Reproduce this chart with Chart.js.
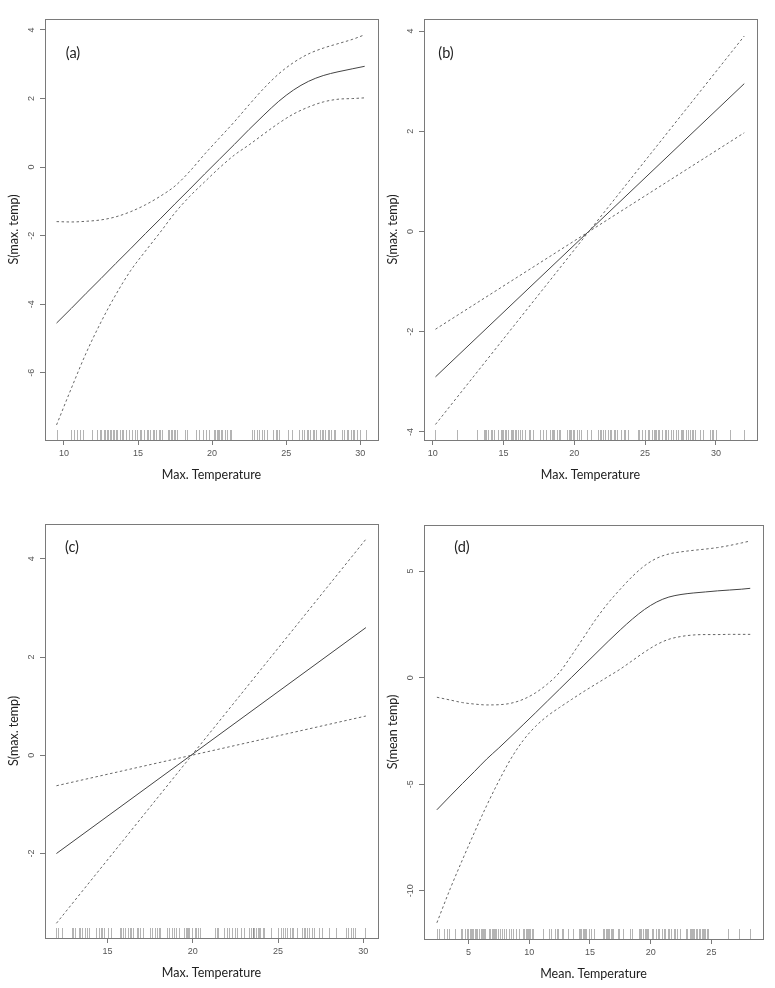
<!DOCTYPE html>
<html lang="en">
<head>
<meta charset="UTF-8">
<title>Smooth terms of temperature</title>
<script src="https://cdn.jsdelivr.net/npm/chart.js"></script>
<style>
  body { margin: 0; background: #fff; }
  canvas { position: absolute; }
</style>
</head>
<body>
<canvas id="pa" width="385" height="494" style="left:0;top:0"></canvas>
<canvas id="pb" width="390" height="494" style="left:385px;top:0"></canvas>
<canvas id="pc" width="385" height="494" style="left:0;top:494px"></canvas>
<canvas id="pd" width="390" height="494" style="left:385px;top:494px"></canvas>

<script>
// ---- panel (a) ----
const tempA  = [9.5, 10.5, 11.5, 12.5, 13.5, 14.5, 15.5, 16.5, 17.5, 18.5, 19.5, 20.5, 21.5, 22.5, 23.5, 24.5, 25.5, 26.5, 27.5, 28.5, 29.5, 30.3];
const fitA   = [-4.55, -4.12, -3.68, -3.25, -2.81, -2.38, -1.94, -1.51, -1.07, -0.64, -0.2, 0.23, 0.66, 1.1, 1.52, 1.92, 2.25, 2.5, 2.67, 2.78, 2.87, 2.94];
const upperA = [-1.59, -1.6, -1.58, -1.54, -1.45, -1.3, -1.1, -0.85, -0.55, -0.12, 0.38, 0.85, 1.32, 1.82, 2.3, 2.72, 3.05, 3.3, 3.47, 3.6, 3.73, 3.86];
const lowerA = [-7.52, -6.45, -5.42, -4.52, -3.72, -3.02, -2.45, -1.9, -1.33, -0.85, -0.43, -0.02, 0.35, 0.65, 0.97, 1.28, 1.55, 1.75, 1.9, 1.98, 2.0, 2.02];
const rugA = [9.5, 10.5, 10.7, 10.9, 11.1, 11.3, 11.9, 12.2, 12.4, 12.5, 12.7, 12.8, 12.9, 13.0, 13.1, 13.2, 13.3, 13.4, 13.5, 13.6, 13.8, 13.9, 14.0, 14.2, 14.4, 14.6, 14.8, 14.9, 15.1, 15.2, 15.4, 15.6, 15.7, 15.8, 16.0, 16.1, 16.2, 16.4, 16.5, 16.6, 17.0, 17.1, 17.2, 17.3, 17.4, 17.5, 17.6, 18.2, 18.3, 18.9, 19.1, 19.4, 19.6, 19.8, 20.1, 20.2, 20.3, 20.4, 20.5, 20.6, 20.7, 20.9, 21.0, 21.2, 21.3, 22.7, 22.8, 23.0, 23.2, 23.4, 23.5, 23.7, 24.1, 24.3, 24.4, 24.5, 25.1, 25.4, 25.9, 26.1, 26.2, 26.4, 26.5, 26.6, 26.8, 26.9, 27.0, 27.3, 27.4, 27.5, 27.6, 27.8, 27.9, 28.0, 28.2, 28.3, 28.8, 28.9, 29.1, 29.2, 29.4, 29.5, 29.6, 29.8, 30.0, 30.4];
const xTicksA = [10, 15, 20, 25, 30];
const yTicksA = [-6, -4, -2, 0, 2, 4];

// ---- panel (b) ----
const tempB  = [10.2, 32.0];
const fitB   = [-2.9, 2.95];
const upperB = [-3.85, 3.9];
const lowerB = [-1.95, 1.97];
const rugB = [10.2, 11.7, 13.1, 13.6, 13.7, 13.8, 13.9, 14.1, 14.2, 14.3, 14.6, 14.8, 14.9, 15.0, 15.1, 15.2, 15.3, 15.5, 15.6, 15.7, 15.8, 15.9, 16.0, 16.2, 16.3, 16.5, 16.8, 16.9, 17.1, 17.6, 17.8, 18.0, 18.3, 18.4, 18.5, 18.6, 18.8, 18.9, 19.0, 19.5, 19.6, 19.7, 19.8, 19.9, 20.0, 20.2, 20.3, 20.5, 20.9, 21.2, 21.7, 21.8, 21.9, 22.0, 22.2, 22.4, 22.5, 22.6, 22.8, 22.9, 23.0, 23.3, 23.5, 23.6, 23.8, 24.5, 24.6, 24.8, 25.0, 25.2, 25.3, 25.5, 25.6, 25.7, 25.8, 25.9, 26.0, 26.2, 26.4, 26.5, 26.6, 26.8, 27.0, 27.2, 27.3, 27.5, 27.6, 27.7, 27.9, 28.0, 28.2, 28.3, 28.4, 28.5, 28.9, 29.1, 29.6, 29.7, 29.8, 30.0, 31.0, 32.0];
const xTicksB = [10, 15, 20, 25, 30];
const yTicksB = [-4, -2, 0, 2, 4];

// ---- panel (c) ----
const tempC  = [12.0, 30.15];
const fitC   = [-2.0, 2.6];
const upperC = [-3.42, 4.4];
const lowerC = [-0.62, 0.8];
const rugC = [12.0, 12.1, 12.3, 12.9, 13.0, 13.1, 13.3, 13.4, 13.5, 13.7, 13.8, 13.9, 14.3, 14.5, 14.6, 14.7, 14.8, 15.0, 15.2, 15.7, 15.8, 15.9, 16.0, 16.2, 16.3, 16.4, 16.5, 16.7, 16.8, 16.9, 17.1, 17.5, 17.6, 17.8, 17.9, 18.0, 18.1, 18.5, 18.6, 18.8, 18.9, 19.0, 19.2, 19.5, 19.6, 19.65, 19.7, 19.8, 19.95, 20.1, 20.2, 20.3, 20.4, 21.3, 21.4, 21.5, 21.8, 22.0, 22.1, 22.3, 22.5, 22.6, 22.8, 23.0, 23.3, 23.4, 23.5, 23.55, 23.6, 23.7, 23.8, 23.9, 23.95, 24.1, 24.2, 24.6, 25.0, 25.2, 25.3, 25.4, 25.5, 25.7, 25.8, 25.9, 26.1, 26.4, 26.5, 26.6, 26.7, 26.8, 27.0, 27.1, 27.4, 27.6, 28.0, 28.4, 29.0, 29.1, 29.3, 29.4, 29.5, 30.1];
const xTicksC = [15, 20, 25, 30];
const yTicksC = [-2, 0, 2, 4];

// ---- panel (d) ----
const tempD  = [2.4, 3.5, 4.5, 5.5, 6.5, 7.5, 8.5, 9.5, 10.5, 11.5, 12.5, 13.5, 14.5, 15.5, 16.5, 17.5, 18.5, 19.5, 20.5, 21.5, 22.5, 23.5, 24.5, 25.5, 26.5, 27.5, 28.2];
const fitD   = [-6.2, -5.55, -4.97, -4.4, -3.82, -3.3, -2.76, -2.21, -1.66, -1.1, -0.54, 0.02, 0.58, 1.14, 1.7, 2.24, 2.75, 3.2, 3.55, 3.78, 3.9, 3.97, 4.02, 4.07, 4.11, 4.15, 4.19];
const upperD = [-0.92, -1.05, -1.17, -1.24, -1.28, -1.27, -1.2, -1.02, -0.72, -0.3, 0.25, 1.05, 1.9, 2.75, 3.5, 4.15, 4.75, 5.25, 5.6, 5.8, 5.9, 5.97, 6.03, 6.1, 6.2, 6.32, 6.41];
const lowerD = [-11.5, -9.9, -8.55, -7.25, -6.0, -4.85, -3.8, -2.95, -2.3, -1.8, -1.4, -1.02, -0.65, -0.3, 0.05, 0.4, 0.8, 1.2, 1.55, 1.8, 1.93, 2.0, 2.02, 2.02, 2.03, 2.03, 2.03];
const rugD = [2.4, 2.6, 3.0, 3.2, 3.4, 3.9, 4.4, 4.5, 4.7, 4.9, 5.0, 5.1, 5.2, 5.3, 5.4, 5.5, 5.6, 5.7, 5.85, 6.0, 6.1, 6.2, 6.3, 6.4, 6.7, 6.8, 6.9, 7.0, 7.1, 7.2, 7.3, 7.4, 7.6, 7.8, 7.9, 8.1, 8.3, 8.5, 8.7, 8.9, 9.2, 9.5, 9.6, 9.7, 9.8, 9.9, 10.0, 10.1, 10.2, 10.35, 11.1, 11.6, 11.8, 12.1, 12.3, 12.4, 12.7, 12.8, 13.2, 13.6, 14.1, 14.2, 14.3, 14.4, 14.5, 14.6, 14.7, 14.9, 15.1, 15.3, 16.1, 16.2, 16.3, 16.4, 16.5, 16.6, 16.7, 16.8, 16.9, 17.3, 17.4, 17.7, 18.3, 18.5, 19.0, 19.1, 19.2, 19.35, 19.5, 19.6, 19.7, 19.8, 20.1, 20.2, 20.4, 20.6, 20.7, 20.9, 21.1, 21.2, 21.4, 21.5, 21.7, 21.9, 22.0, 22.2, 22.4, 22.9, 23.0, 23.2, 23.3, 23.4, 23.5, 23.6, 23.7, 23.85, 24.0, 24.1, 24.2, 24.3, 24.4, 24.5, 24.6, 24.7, 26.4, 27.25, 28.2];
const xTicksD = [5, 10, 15, 20, 25];
const yTicksD = [-10, -5, 0, 5];

const AXIS_GREY = '#7a7a7a';
const TITLE_FONT = 'Lato, "Open Sans", sans-serif';

// box, rug, rotated y labels, axis titles, panel letter
const panelDecor = {
  id: 'panelDecor',
  beforeDatasetsDraw(chart, args, o) {
    const { ctx, chartArea: a } = chart;
    const xs = chart.scales.x;
    ctx.save();
    ctx.strokeStyle = 'rgba(105,105,105,0.5)';
    ctx.lineWidth = 1;
    ctx.beginPath();
    o.rug.forEach(v => {
      const x = Math.round(xs.getPixelForValue(v)) + 0.5;
      ctx.moveTo(x, a.bottom);
      ctx.lineTo(x, a.bottom - 10);
    });
    ctx.stroke();
    ctx.restore();
  },
  afterDraw(chart, args, o) {
    const { ctx, chartArea: a } = chart;
    const ys = chart.scales.y;
    ctx.save();
    ctx.strokeStyle = AXIS_GREY;
    ctx.lineWidth = 1;
    ctx.strokeRect(Math.round(a.left) + 0.5, Math.round(a.top) + 0.5,
                   Math.round(a.right - a.left), Math.round(a.bottom - a.top));

    // y tick labels, rotated like R's las = 0
    ctx.fillStyle = '#555';
    ctx.font = '9px "Liberation Sans", Arial, sans-serif';
    ctx.textAlign = 'center';
    ctx.textBaseline = 'middle';
    o.yTicks.forEach(v => {
      ctx.save();
      ctx.translate(a.left - 13.5, ys.getPixelForValue(v));
      ctx.rotate(-Math.PI / 2);
      ctx.fillText(String(v), 0, 0);
      ctx.restore();
    });

    // axis titles
    ctx.fillStyle = '#222';
    ctx.font = '12.5px ' + TITLE_FONT;
    ctx.fillText(o.xTitle, (a.left + a.right) / 2, a.bottom + 35);
    ctx.save();
    ctx.translate(a.left - 31, (a.top + a.bottom) / 2);
    ctx.rotate(-Math.PI / 2);
    ctx.fillText(o.yTitle, 0, 0);
    ctx.restore();

    // panel letter
    ctx.font = '14.5px ' + TITLE_FONT;
    ctx.fillText(o.letter, a.left + o.letterPos[0], a.top + o.letterPos[1]);
    ctx.restore();
  }
};

function pts(xs, ys) {
  return xs.map((x, i) => ({ x: x, y: ys[i] }));
}

function makePanel(id, p) {
  const canvas = document.getElementById(id);
  const W = canvas.width, H = canvas.height;
  const dashed = { borderColor: '#666', borderWidth: 1, borderDash: [2.5, 2.5] };
  const smooth = p.curved ? { cubicInterpolationMode: 'monotone' } : { tension: 0 };
  const gridOpts = { drawOnChartArea: false, drawTicks: true, tickLength: 5, color: AXIS_GREY };

  return new Chart(canvas, {
    type: 'line',
    data: {
      datasets: [
        Object.assign({ data: pts(p.temp, p.upper) }, dashed, smooth),
        Object.assign({ data: pts(p.temp, p.fit), borderColor: '#444', borderWidth: 1 }, smooth),
        Object.assign({ data: pts(p.temp, p.lower) }, dashed, smooth)
      ]
    },
    options: {
      responsive: false,
      animation: false,
      events: [],
      layout: { padding: { top: p.area.t, right: W - p.area.r, left: 0, bottom: 0 } },
      elements: { point: { radius: 0 } },
      plugins: {
        legend: { display: false },
        tooltip: { enabled: false },
        panelDecor: {
          rug: p.rug, yTicks: p.yTicks,
          xTitle: p.xTitle, yTitle: p.yTitle,
          letter: p.letter, letterPos: p.letterPos
        }
      },
      scales: {
        x: {
          type: 'linear',
          min: p.xMin, max: p.xMax,
          afterBuildTicks: s => { s.ticks = p.xTicks.map(v => ({ value: v })); },
          afterFit: s => { s.height = H - p.area.b; },
          grid: gridOpts,
          border: { color: AXIS_GREY },
          ticks: {
            color: '#555', padding: 3, maxRotation: 0,
            font: { family: '"Liberation Sans", Arial, sans-serif', size: 9 }
          }
        },
        y: {
          type: 'linear',
          min: p.yMin, max: p.yMax,
          afterBuildTicks: s => { s.ticks = p.yTicks.map(v => ({ value: v })); },
          afterFit: s => { s.width = p.area.l; },
          grid: gridOpts,
          border: { color: AXIS_GREY },
          ticks: { display: false }
        }
      }
    },
    plugins: [panelDecor]
  });
}

makePanel('pa', {
  temp: tempA, fit: fitA, upper: upperA, lower: lowerA, rug: rugA, curved: true,
  xMin: 8.72, xMax: 31.2, xTicks: xTicksA, yMin: -7.96, yMax: 4.32, yTicks: yTicksA,
  xTitle: 'Max. Temperature', yTitle: 'S(max. temp)', letter: '(a)', letterPos: [28, 34],
  area: { l: 45, t: 19, r: 378, b: 440 }
});
makePanel('pb', {
  temp: tempB, fit: fitB, upper: upperB, lower: lowerB, rug: rugB, curved: false,
  xMin: 9.39, xMax: 32.9, xTicks: xTicksB, yMin: -4.16, yMax: 4.24, yTicks: yTicksB,
  xTitle: 'Max. Temperature', yTitle: 'S(max. temp)', letter: '(b)', letterPos: [22, 34],
  area: { l: 39, t: 19, r: 372, b: 440 }
});
makePanel('pc', {
  temp: tempC, fit: fitC, upper: upperC, lower: lowerC, rug: rugC, curved: false,
  xMin: 11.33, xMax: 30.86, xTicks: xTicksC, yMin: -3.72, yMax: 4.71, yTicks: yTicksC,
  xTitle: 'Max. Temperature', yTitle: 'S(max. temp)', letter: '(c)', letterPos: [27, 23],
  area: { l: 45, t: 30, r: 378, b: 444 }
});
makePanel('pd', {
  temp: tempD, fit: fitD, upper: upperD, lower: lowerD, rug: rugD, curved: true,
  xMin: 1.34, xMax: 29.25, xTicks: xTicksD, yMin: -12.26, yMax: 7.16, yTicks: yTicksD,
  xTitle: 'Mean. Temperature', yTitle: 'S(mean temp)', letter: '(d)', letterPos: [38, 22],
  area: { l: 39, t: 31, r: 378, b: 445 }
});
</script>
</body>
</html>
